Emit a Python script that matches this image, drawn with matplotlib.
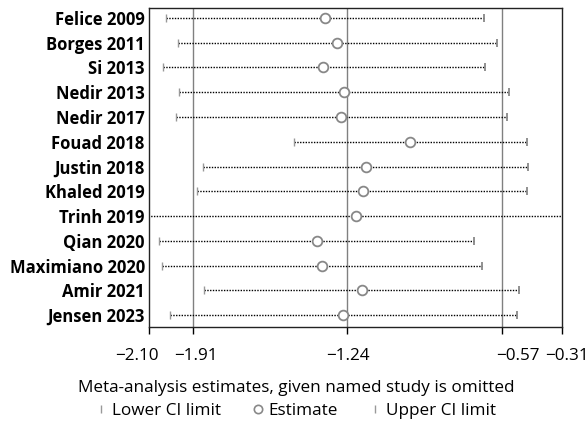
import matplotlib.pyplot as plt
import matplotlib.transforms as mtransforms
from matplotlib.lines import Line2D
import numpy as np

plt.rcParams['font.family'] = ['Open Sans', 'DejaVu Sans']

studies = ['Felice 2009', 'Borges 2011', 'Si 2013', 'Nedir 2013', 'Nedir 2017',
           'Fouad 2018', 'Justin 2018', 'Khaled 2019', 'Trinh 2019', 'Qian 2020',
           'Maximiano 2020', 'Amir 2021', 'Jensen 2023']
estimate = [-1.337, -1.286, -1.344, -1.254, -1.266, -0.968, -1.160, -1.173,
            -1.202, -1.373, -1.350, -1.176, -1.257]
lower = [-2.025, -1.976, -2.039, -1.971, -1.984, -1.471, -1.866, -1.890,
         -2.60, -2.057, -2.045, -1.860, -2.009]
upper = [-0.647, -0.592, -0.644, -0.538, -0.549, -0.462, -0.458, -0.460,
         0.10, -0.689, -0.657, -0.496, -0.503]
ref_lines = [-1.91, -1.24, -0.57]
xticks = [-2.10, -1.91, -1.24, -0.57, -0.31]
xtick_labels = ['\u22122.10', '\u22121.91', '\u22121.24', '\u22120.57', '\u22120.31']

fig = plt.figure(figsize=(5.87, 4.28), dpi=100)
ax = fig.add_axes([149/587, 1-327/428, (561.7-149)/587, (327-8)/428])

y = np.arange(len(studies))

for v in ref_lines:
    ax.axvline(v, color='#808080', lw=1, zorder=1)

# CI lines
ax.hlines(y, lower, upper, colors='black', lw=1, linestyles=(0, (1, 1)), zorder=2)
ax.plot(lower, y, ls='none', marker='|', ms=6, mew=1, color='#999999', zorder=3)
ax.plot(upper, y, ls='none', marker='|', ms=6, mew=1.3, color='#888888', zorder=3)
ax.plot(estimate, y, ls='none', marker='o', ms=7, mfc='white', mec='#888888', mew=1.3, zorder=4)

ax.set_xlim(-2.10, -0.31)
ax.set_ylim(len(studies) - 0.52, -0.4)
ax.set_yticks(y)
ax.set_yticklabels(studies, fontsize=12, fontweight='bold')
ax.tick_params(axis='y', length=0, pad=3)
ax.set_xticks(xticks)
ax.set_xticklabels(xtick_labels, fontsize=12.3)
ax.tick_params(axis='x', length=5, width=1, pad=10)

# small shifts of crowded tick labels, as in the original
shifts = [-12, 3, 1, 16, 5]
for lab, dx in zip(ax.get_xticklabels(), shifts):
    lab.set_transform(lab.get_transform() + mtransforms.ScaledTranslation(dx/100, 0, fig.dpi_scale_trans))

for s in ax.spines.values():
    s.set_linewidth(1)
    s.set_color('#222222')

ax.set_xlabel('Meta-analysis estimates, given named study is omitted', fontsize=12.3, va='center')
ax.xaxis.set_label_coords((296-149)/412.7, (327-388)/319)

handles = [
    Line2D([], [], ls='none', marker='|', ms=6, mew=1, color='#999999'),
    Line2D([], [], ls='none', marker='o', ms=6, mfc='white', mec='#888888', mew=1.2),
    Line2D([], [], ls='none', marker='|', ms=6, mew=1, color='#999999'),
]
fig.legend(handles, ['Lower CI limit', 'Estimate', 'Upper CI limit'], loc='center',
           bbox_to_anchor=(296/587, 1-411/428), ncol=3, frameon=False, fontsize=12.3,
           handlelength=0.6, handletextpad=0.3, columnspacing=1.9)

fig.savefig('out.png', dpi=100)
